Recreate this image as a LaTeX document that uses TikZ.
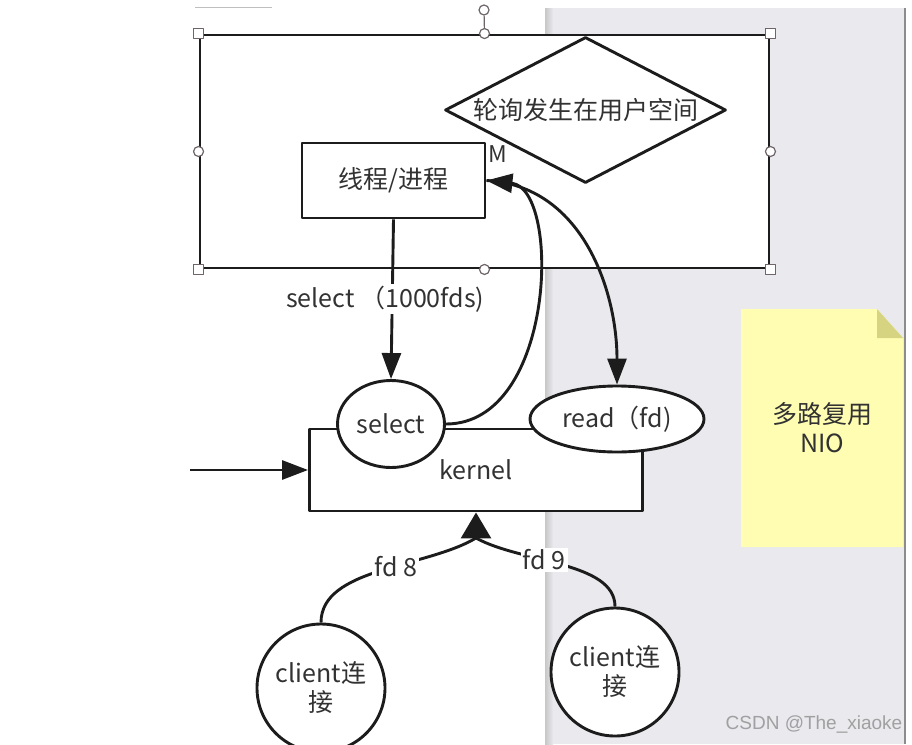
\documentclass[tikz,border=0pt]{standalone}
\usepackage{fontspec}
\setmainfont{Noto Sans CJK SC}
\newfontfamily\wmfont{Liberation Sans}
\usetikzlibrary{arrows.meta,positioning,calc,shapes.geometric}
\definecolor{nioedge}{RGB}{28,28,28}
\definecolor{niotext}{RGB}{50,50,50}
\definecolor{niopanel}{RGB}{233,233,238}
\definecolor{niohandle}{RGB}{110,100,105}
\definecolor{nionote}{RGB}{255,253,178}
\definecolor{niofold}{RGB}{214,212,128}
\definecolor{niowm}{RGB}{160,160,160}
\tikzset{
  niobox/.style={
    draw=nioedge, line width=2.9pt, fill=white,
    align=center, inner sep=0pt, text=niotext
  },
  procbox/.style={niobox, minimum width=183pt, minimum height=75pt},
  kernbox/.style={niobox, minimum width=333pt, minimum height=82pt},
  oval/.style={niobox, ellipse},
  cli/.style={niobox, circle, minimum size=128pt},
  dia/.style={niobox, diamond, aspect=1.87, minimum width=281pt, minimum height=146pt},
  lbl/.style={fill=white, text=niotext, inner sep=2pt},
  arr/.style={-{Triangle[length=26pt,width=19pt]}, draw=nioedge, line width=2.9pt},
  wire/.style={draw=nioedge, line width=2.9pt},
  hsq/.style={draw=niohandle, fill=white, line width=1.2pt, minimum size=10pt, inner sep=0pt},
  hci/.style={hsq, circle},
  every picture/.append style={font=\fontsize{25}{29}\selectfont, line join=round}
}
\begin{document}
\begin{tikzpicture}[x=1pt,y=-1pt]
  \useasboundingbox (0,0) rectangle (912,744);
  % window backdrop
  \fill[niopanel] (545,8) rectangle (905,744);
  \shade[left color=black!22, right color=niopanel] (545,8) rectangle (553,744);
  \draw[black!45, line width=1.5pt] (905,8) -- (905,744);
  \draw[black!25, line width=1pt] (195,7) -- (272,7);

  % user space frame with its handles
  \node[niobox, minimum width=569pt, minimum height=233pt] (user) at (484.5,151.5) {};
  \node[hci] (rot) at (484,10) {};
  \draw[niohandle, line width=1.2pt] (rot) -- (user.north);
  \foreach \a/\n in {north west/hnw,north east/hne,south west/hsw,south east/hse}
    \node[hsq] (\n) at (user.\a) {};
  \foreach \a/\n in {north/hn,south/hs,west/hw,east/he}
    \node[hci] (\n) at (user.\a) {};

  \node[dia] (poll) at (585.5,110) {轮询发生在用户空间};
  \node[font=\fontsize{23}{25}\selectfont, text=niotext] (mlab) at (498,154) {M};
  \node[procbox] (thr) at (393.5,180.5) {线程/进程};

  \node[kernbox] (krn) at (476,470) {kernel};
  \node[oval, minimum width=107pt, minimum height=87pt] (sel) at (391,424) {select};
  \node[oval, minimum width=174pt, minimum height=66pt] (rd) at (617,419) {read（fd)};
  \node[cli] (c8) at (321,688) {client连\\接};
  \node[cli] (c9) at (615,672) {client连\\接};

  % sticky note
  \coordinate (nnw) at (741,309);
  \coordinate (nse) at (903,547);
  \fill[nionote] (nnw) -- ($(nnw -| nse)+(-26,0)$) -- ($(nnw -| nse)+(0,29)$)
    -- (nse) -- (nnw |- nse) -- cycle;
  \fill[niofold] ($(nnw -| nse)+(-26,0)$) -- ($(nnw -| nse)+(0,29)$)
    -- ($(nnw -| nse)+(-26,29)$) -- cycle;
  \node[text=niotext, align=center] (note) at ($(nnw)!0.5!(nse)$) {多路复用\\NIO};

  \draw[arr] (thr.south) -- node[lbl, xshift=-7pt] {select （1000fds)} (sel.north);
  \draw[arr] (sel.east) .. controls +(110,0) and +(75,8) .. (thr.east);
  \draw[arr] (thr.east) .. controls +(95,5) and +(0,-95) .. (rd.north);

  \coordinate (lft) at (190,470);
  \draw[arr] (lft) -- (krn.west);
  \coordinate (fdj) at (476,538);
  \draw[arr, -{Triangle[length=26pt,width=30pt]}] (fdj) -- (krn.south);
  \draw[wire] (c8.north) .. controls +(0,-55) and +(-50,30) .. node[lbl, pos=0.58] {fd 8} (fdj);
  \draw[wire] (c9.north) .. controls +(0,-45) and +(45,25) .. node[lbl, pos=0.6] {fd 9} (fdj);

  \node[font=\wmfont\fontsize{19}{21}\selectfont, text=niowm] (wm) at (814,724) {CSDN @The\_xiaoke};
\end{tikzpicture}
\end{document}
